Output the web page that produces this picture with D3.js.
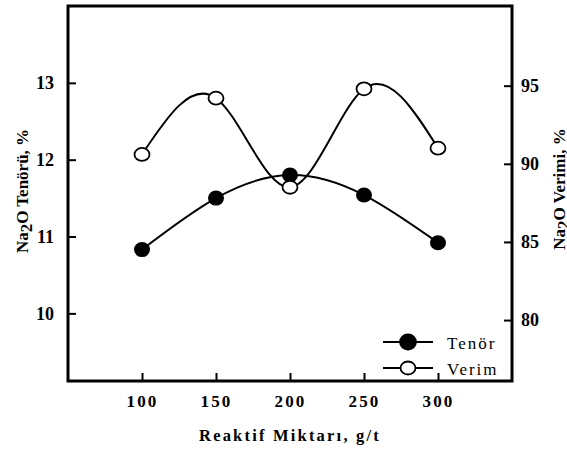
<!DOCTYPE html>
<html>
<head>
<meta charset="utf-8">
<script src="https://cdn.jsdelivr.net/npm/d3@7"></script>
<style>
  body { margin: 0; background: #fff; }
  text { font-family: "Liberation Serif", "Times New Roman", serif; fill: #000; }
</style>
</head>
<body>
<svg id="chart" width="567" height="449"></svg>
<script>
// data
const dosages = [100, 150, 200, 250, 300];
const tenor = [10.83, 11.50, 11.80, 11.54, 10.92];
const verim = [90.6, 94.2, 88.5, 94.8, 91.0];
const leftTicks = [10, 11, 12, 13];
const rightTicks = [80, 85, 90, 95];
const xTicks = [100, 150, 200, 250, 300];

const svg = d3.select('#chart');

const margin = { top: 6, right: 55, bottom: 68, left: 68 };
const width = +svg.attr('width');
const height = +svg.attr('height');
const innerWidth = width - margin.left - margin.right;
const innerHeight = height - margin.top - margin.bottom;

const xScale = d3.scaleLinear().domain([50, 350]).range([0, innerWidth]);
const yLeft = d3.scaleLinear().domain([9.12, 14.0]).range([innerHeight, 0]);
const yRight = d3.scaleLinear().domain([76.1, 100.1]).range([innerHeight, 0]);

const g = svg.append('g')
    .attr('transform', 'translate(' + margin.left + ',' + margin.top + ')');

// frame
g.append('rect')
    .attr('width', innerWidth)
    .attr('height', innerHeight)
    .attr('fill', 'none')
    .attr('stroke', '#000')
    .attr('stroke-width', 3);

// axes, ticks pointing inward
const styleAxis = (sel, size, spacing) => {
  sel.attr('font-family', null).attr('font-size', null);
  sel.select('.domain').remove();
  sel.selectAll('line').attr('stroke', '#000').attr('stroke-width', 2);
  sel.selectAll('text')
      .attr('font-weight', 'bold')
      .attr('font-size', size)
      .attr('letter-spacing', spacing);
};

g.append('g')
    .call(d3.axisLeft(yLeft).tickValues(leftTicks).tickSize(-8).tickPadding(14).tickFormat(d3.format('d')))
    .call(sel => styleAxis(sel, 18, 0));

g.append('g')
    .attr('transform', 'translate(' + innerWidth + ',0)')
    .call(d3.axisRight(yRight).tickValues(rightTicks).tickSize(-8).tickPadding(9).tickFormat(d3.format('d')))
    .call(sel => styleAxis(sel, 18, 0));

g.append('g')
    .attr('transform', 'translate(0,' + innerHeight + ')')
    .call(d3.axisBottom(xScale).tickValues(xTicks).tickSize(-8).tickPadding(14).tickFormat(d3.format('d')))
    .call(sel => styleAxis(sel, 17, 2.2));

// axis titles
const addTitle = (x, y, rest) => {
  const t = svg.append('text')
      .attr('transform', 'translate(' + x + ',' + y + ') rotate(-90)')
      .attr('text-anchor', 'middle')
      .attr('font-weight', 'bold')
      .attr('font-size', 17);
  t.append('tspan').text('Na');
  t.append('tspan').attr('dy', 4).text('2');
  t.append('tspan').attr('dy', -4).text(rest);
};
addTitle(28, 191, 'O Tenörü, %');
addTitle(565, 189, 'O Verimi, %');

svg.append('text')
    .attr('x', margin.left + xScale(200))
    .attr('y', 441)
    .attr('text-anchor', 'middle')
    .attr('font-weight', 'bold')
    .attr('font-size', 16.5)
    .attr('letter-spacing', 2.2)
    .text('Reaktif Miktarı, g/t');

// series lines
const lineLeft = d3.line()
    .x((d, i) => xScale(dosages[i]))
    .y(d => yLeft(d))
    .curve(d3.curveNatural);

const lineRight = d3.line()
    .x((d, i) => xScale(dosages[i]))
    .y(d => yRight(d))
    .curve(d3.curveNatural);

g.append('path')
    .datum(tenor)
    .attr('d', lineLeft)
    .attr('fill', 'none')
    .attr('stroke', '#000')
    .attr('stroke-width', 2);

g.append('path')
    .datum(verim)
    .attr('d', lineRight)
    .attr('fill', 'none')
    .attr('stroke', '#000')
    .attr('stroke-width', 2);

// markers
g.selectAll('.tenor')
    .data(tenor)
    .enter()
    .append('ellipse')
    .attr('class', 'tenor')
    .attr('cx', (d, i) => xScale(dosages[i]))
    .attr('cy', d => yLeft(d))
    .attr('rx', 8)
    .attr('ry', 7.5)
    .attr('fill', '#000');

g.selectAll('.verim')
    .data(verim)
    .enter()
    .append('ellipse')
    .attr('class', 'verim')
    .attr('cx', (d, i) => xScale(dosages[i]))
    .attr('cy', d => yRight(d))
    .attr('rx', 7.5)
    .attr('ry', 6.5)
    .attr('fill', '#fff')
    .attr('stroke', '#000')
    .attr('stroke-width', 1.8);

// legend
const legend = svg.append('g').attr('transform', 'translate(383,342)');
const entries = [
  { label: 'Tenör', fill: '#000', rx: 8, ry: 7.5 },
  { label: 'Verim', fill: '#fff', rx: 7.5, ry: 6.5 }
];
entries.forEach((e, i) => {
  const row = legend.append('g').attr('transform', 'translate(0,' + (i * 26) + ')');
  row.append('line')
      .attr('x1', 0).attr('x2', 50)
      .attr('stroke', '#000').attr('stroke-width', 2);
  row.append('ellipse')
      .attr('cx', 25).attr('rx', e.rx).attr('ry', e.ry)
      .attr('fill', e.fill)
      .attr('stroke', '#000').attr('stroke-width', 1.8);
  row.append('text')
      .attr('x', 64).attr('y', 7)
      .attr('font-size', 17)
      .attr('letter-spacing', 2)
      .text(e.label);
});
</script>
</body>
</html>
